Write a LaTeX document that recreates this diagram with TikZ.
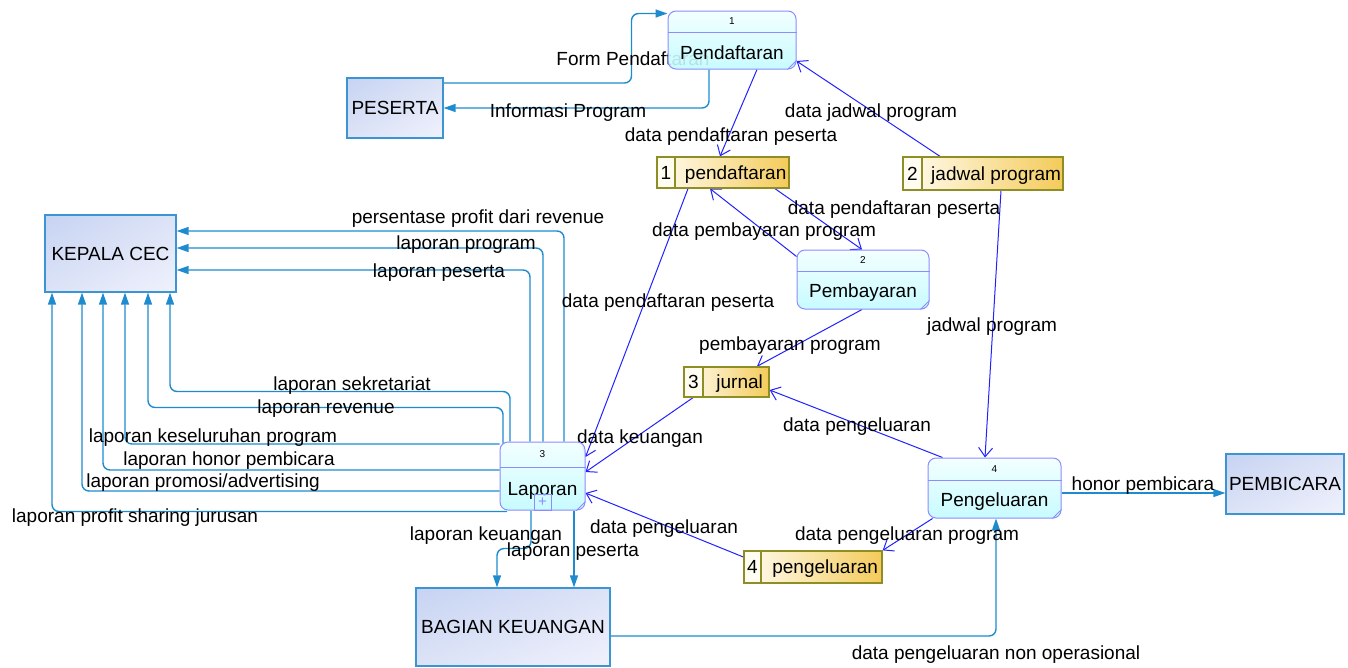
\documentclass[tikz,border=0pt]{standalone}
\usepackage{fontspec}
\setmainfont{Liberation Sans}
\usetikzlibrary{arrows.meta,calc,backgrounds,shadings}
\definecolor{eline}{HTML}{1E8BCF}
\definecolor{bline}{HTML}{2222FF}
\definecolor{eborder}{HTML}{3A95D2}
\definecolor{etopl}{HTML}{C6D3F2}
\definecolor{emid}{HTML}{DCE3F7}
\definecolor{ebotr}{HTML}{F0F1FC}
\definecolor{pborder}{HTML}{8C8CFF}
\definecolor{ptop}{HTML}{F2FFFF}
\definecolor{pbot}{HTML}{C2FBFF}
\definecolor{sborder}{HTML}{8E8E24}
\definecolor{sleft}{HTML}{FFFCF2}
\definecolor{sright}{HTML}{F4CB5A}
\tikzset{
  lbl/.style={font=\fontsize{19}{22}\selectfont, inner sep=0pt, text height=14pt, text depth=4pt, yshift=-2pt},
  entity/.style={draw=eborder, line width=1.3pt, upper left=etopl, upper right=emid, lower left=emid, lower right=ebotr, font=\fontsize{19}{22}\selectfont, inner sep=0pt},
  procbox/.style={draw=pborder, line width=1pt, rounded corners=8pt, top color=ptop, bottom color=pbot, fill opacity=0.9, inner sep=0pt},
  procline/.style={draw=pborder, line width=1pt},
  procnum/.style={font=\fontsize{10}{11}\selectfont, inner sep=0pt},
  proctext/.style={font=\fontsize{19}{22}\selectfont, inner sep=0pt, yshift=-2pt},
  storebox/.style={draw=sborder, line width=1.3pt, left color=sleft, right color=sright, inner sep=0pt},
  storenum/.style={draw=sborder, line width=1.3pt, fill=sleft, inner sep=0pt, font=\fontsize{19}{22}\selectfont},
  storetext/.style={font=\fontsize{19}{22}\selectfont, inner sep=0pt, yshift=-2pt, xshift=3pt},
  eflow/.style={draw=eline, line width=1.4pt, rounded corners=7pt, -{Triangle[length=12pt,width=8pt]}},
  bflow/.style={draw=bline, line width=1pt, -{Straight Barb[length=9pt,width=14pt]}}
}
% #1 name #2 cx #3 cy #4 w #5 h #6 num #7 label #8 header height
\newcommand\dfdproc[8]{%
  \node[procbox, minimum width=#4pt, minimum height=#5pt] (#1) at (#2,#3) {};
  \draw[procline] ([yshift=-#8pt]#1.north west) -- ([yshift=-#8pt]#1.north east);
  \draw[procline] ([yshift=9pt]#1.south east) -- ([xshift=-9pt]#1.south east);
  \node[procnum] (#1n) at ([yshift=-#8pt/2]#1.north) {#6};
  \node[proctext] (#1t) at ($([yshift=-#8pt]#1.north)!0.5!(#1.south)$) {#7};
}
% #1 name #2 cx #3 cy #4 w #5 h #6 numw #7 num #8 label
\newcommand\dfdstore[8]{%
  \node[storebox, minimum width=#4pt, minimum height=#5pt] (#1) at (#2,#3) {};
  \node[storenum, anchor=west, minimum width=#6pt, minimum height=#5pt] (#1n) at (#1.west) {#7};
  \node[storetext] (#1t) at ($(#1n.east)!0.5!(#1.east)$) {#8};
}
\begin{document}
\begin{tikzpicture}[x=1pt,y=-1pt]
\useasboundingbox (0,0) rectangle (1348,667);
% entities
\node[entity, minimum width=96pt, minimum height=60pt] (peserta) at (395,108) {PESERTA};
\node[entity, minimum width=131pt, minimum height=77pt] (kepala) at (110.5,253.5) {KEPALA CEC};
\node[entity, minimum width=118pt, minimum height=60pt] (pembicara) at (1285,484) {PEMBICARA};
\node[entity, minimum width=194pt, minimum height=78pt] (keuangan) at (513,627) {BAGIAN KEUANGAN};
% processes
\dfdproc{p1}{732}{40}{128}{58}{1}{Pendaftaran}{22}
\dfdproc{p2}{863}{279.5}{132}{59}{2}{Pembayaran}{22}
\dfdproc{p3}{542.5}{476}{85}{68}{3}{Laporan}{26}
\dfdproc{p4}{994.5}{488}{133}{60}{4}{Pengeluaran}{23}
\node[draw=pborder, line width=0.8pt, minimum width=17pt, minimum height=16pt, inner sep=0pt, text=pborder, font=\fontsize{15}{15}\selectfont] (p3plus) at (542.5,502.5) {+};
% stores
\dfdstore{s1}{723}{172.5}{132}{31}{18}{1}{pendaftaran}
\dfdstore{s2}{983}{173.5}{160}{33}{19}{2}{jadwal program}
\dfdstore{s3}{726.5}{382}{85}{30}{19}{3}{jurnal}
\dfdstore{s4}{813}{567}{138}{32}{17}{4}{pengeluaran}
\begin{pgfonlayer}{background}
\fill[white] (0,0) rectangle (1348,667);
% entity flows
\draw[eflow] ([yshift=25pt]peserta.east) -| ([xshift=-36pt,yshift=-3pt]p1.north west) -- ([yshift=-3pt]p1.north west);
\draw[eflow] ([xshift=-23pt]p1.south) |- (peserta.east);
\draw[eflow] ([xshift=21.5pt]p3.north) |- ([yshift=22.5pt]kepala.east);
\draw[eflow] ([xshift=0.5pt]p3.north) |- ([yshift=5.5pt]kepala.east);
\draw[eflow] ([xshift=-12.5pt]p3.north) |- ([yshift=-16.5pt]kepala.east);
\draw[eflow] ([xshift=-32.5pt]p3.north) -- ++(0,-50) -| ([xshift=59.5pt]kepala.south);
\draw[eflow] ([xshift=-39.5pt,yshift=-2pt]p3.north) -- ++(0,-36) -| ([xshift=37.5pt]kepala.south);
\draw[eflow] ([yshift=32pt]p3.west) -| ([xshift=14.5pt]kepala.south);
\draw[eflow] ([yshift=6pt]p3.west) -| ([xshift=-7.5pt]kepala.south);
\draw[eflow] ([yshift=-15pt]p3.west) -| ([xshift=-28.5pt]kepala.south);
\draw[eflow] ([xshift=-35.5pt,yshift=-1pt]p3.south) -| ([xshift=-58.5pt]kepala.south);
\draw[eflow] ([xshift=-11.5pt]p3.south) -- ++(0,38) -| ([xshift=-16pt]keuangan.north);
\draw[eflow] ([xshift=31.5pt]p3.south) -- ([xshift=61pt]keuangan.north);
\draw[eflow] ([yshift=-9pt]keuangan.east) -| ([xshift=1.5pt]p4.south);
\draw[eflow] ([yshift=-5pt]p4.east) -- ([yshift=-9pt]pembicara.west);
% data flows to/from stores
\draw[bflow] ([xshift=25pt]p1.south) -- ([xshift=-3pt]s1.north);
\draw[bflow] ([xshift=-43pt]s2.north) -- ([yshift=-21pt]p1.east);
\draw[bflow] ([xshift=52pt]s1.south) -- ([xshift=-1pt]p2.north);
\draw[bflow] ([yshift=-7pt]p2.north west) -- ([xshift=-13pt]s1.south);
\draw[bflow] ([xshift=-35pt]s1.south) -- ([yshift=19pt]p3.east);
\draw[bflow] ([xshift=18pt]s2.south) -- ([xshift=-9.5pt]p4.north);
\draw[bflow] ([xshift=-1pt]p2.south) -- ([xshift=30.5pt]s3.north);
\draw[bflow] ([xshift=-33.5pt]s3.south) -- ([yshift=4pt]p3.east);
\draw[bflow] ([xshift=15pt]p4.north west) -- ([yshift=-8pt]s3.east);
\draw[bflow] ([yshift=10pt]s4.west) -- ([yshift=-17pt]p3.east);
\draw[bflow] ([xshift=5pt]p4.south west) -- (s4.north east);
% labels
\node[lbl] (l1) at (633,58) {Form Pendaftaran};
\node[lbl] (l2) at (568,110) {Informasi Program};
\node[lbl] (l3) at (871,110) {data jadwal program};
\node[lbl] (l4) at (731,134) {data pendaftaran peserta};
\node[lbl] (l5) at (894,207) {data pendaftaran peserta};
\node[lbl] (l6) at (764,229) {data pembayaran program};
\node[lbl] (l7) at (478,216) {persentase profit dari revenue};
\node[lbl] (l8) at (466,242) {laporan program};
\node[lbl] (l9) at (439,270) {laporan peserta};
\node[lbl] (l10) at (668,300) {data pendaftaran peserta};
\node[lbl] (l11) at (992,324) {jadwal program};
\node[lbl] (l12) at (790,343) {pembayaran program};
\node[lbl] (l13) at (352,383) {laporan sekretariat};
\node[lbl] (l14) at (326,406) {laporan revenue};
\node[lbl] (l15) at (857,424) {data pengeluaran};
\node[lbl] (l16) at (213,435) {laporan keseluruhan program};
\node[lbl] (l17) at (640,436) {data keuangan};
\node[lbl] (l18) at (229,458) {laporan honor pembicara};
\node[lbl] (l19) at (203,480) {laporan promosi/advertising};
\node[lbl] (l20) at (1143,483) {honor pembicara};
\node[lbl] (l21) at (135,515) {laporan profit sharing jurusan};
\node[lbl] (l22) at (664,526) {data pengeluaran};
\node[lbl] (l23) at (486,533) {laporan keuangan};
\node[lbl] (l24) at (907,533) {data pengeluaran program};
\node[lbl] (l25) at (573,549) {laporan peserta};
\node[lbl] (l26) at (996,652) {data pengeluaran non operasional};
\end{pgfonlayer}
\end{tikzpicture}
\end{document}
